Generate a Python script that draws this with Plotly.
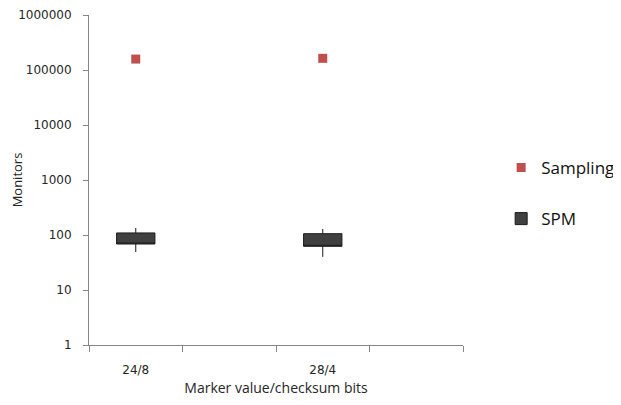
import plotly.graph_objects as go

categories = ["24/8", " ", "28/4", "  "]
box_x = ["24/8", "28/4"]
spm_low = [49, 40]
spm_q1 = [68.6, 62.3]
spm_q3 = [109, 105.6]
spm_high = [134, 128.5]
sampling_x = ["24/8", "28/4"]
sampling_vals = [158000, 163000]
y_ticks = [1, 10, 100, 1000, 10000, 100000, 1000000]

fig = go.Figure()
fig.add_trace(go.Scatter(
    x=sampling_x, y=sampling_vals, mode="markers", name="Sampling",
    marker=dict(symbol="square", size=9, color="#c0504d"),
    legendgroup="a",
))
fig.add_trace(go.Box(
    x=box_x, q1=spm_q1, median=spm_q1, q3=spm_q3,
    lowerfence=spm_low, upperfence=spm_high,
    name="SPM", width=0.41, whiskerwidth=0,
    fillcolor="#404040", line=dict(color="#1a1a1a", width=1),
    legendgroup="b", hoverinfo="skip",
))

axis_font = dict(family="DejaVu Sans", size=12, color="#262626")
fig.update_layout(
    width=621, height=389,
    margin=dict(l=81, r=166, t=7, b=52, autoexpand=False),
    paper_bgcolor="white", plot_bgcolor="white",
    showlegend=True,
    legend=dict(x=1.102, xanchor="left", y=0.591, yanchor="top",
                font=dict(family="Open Sans", size=17, color="#111"),
                tracegroupgap=26, traceorder="grouped",
                bgcolor="rgba(0,0,0,0)"),
    xaxis=dict(
        type="category", categoryorder="array", categoryarray=categories,
        range=[-0.5, 3.5], tickson="boundaries", ticks="outside", ticklen=6,
        tickcolor="#868686", showline=True, linecolor="#868686", linewidth=1,
        showgrid=False, zeroline=False, tickfont=axis_font,
        ticklabelstandoff=14, automargin=False,
        title=dict(text="Marker value/checksum bits",
                   font=dict(family="Open Sans", size=14, color="#262626"),
                   standoff=13),
    ),
    yaxis=dict(
        type="log", range=[0, 6], tickvals=y_ticks,
        ticktext=[str(v) for v in y_ticks],
        ticks="outside", ticklen=5, tickcolor="#868686",
        showline=True, linecolor="#868686", linewidth=1,
        showgrid=False, zeroline=False, tickfont=axis_font,
        ticklabelstandoff=9, automargin=False,
        title=dict(text="Monitors",
                   font=dict(family="Open Sans", size=13, color="#262626"),
                   standoff=5),
    ),
)

fig.write_html("out.html")
